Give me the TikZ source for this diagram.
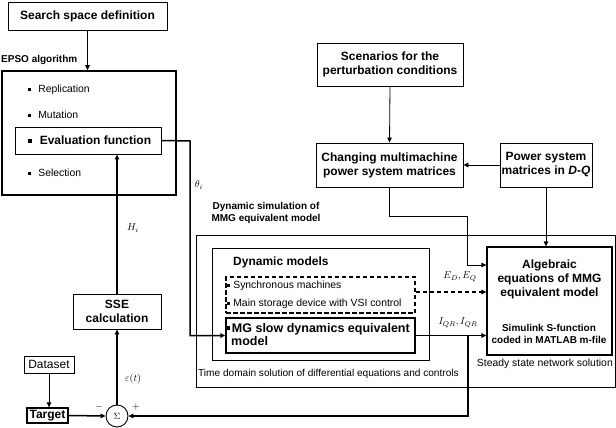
\documentclass[tikz,border=0pt]{standalone}
\usepackage{fontspec}
\setmainfont{Liberation Sans}
\usetikzlibrary{arrows.meta}
\newcommand{\mybullet}{\rule[0.18em]{0.3em}{0.3em}}
\begin{document}
\begin{tikzpicture}[x=1pt,y=-1pt,
  box/.style={draw, line width=0.9pt, inner sep=0pt, align=center},
  bigtxt/.style={font=\fontsize{12}{14}\selectfont\bfseries},
  midtxt/.style={font=\fontsize{10}{12}\selectfont\bfseries},
  smtxt/.style={font=\fontsize{10.4}{12}\selectfont},
  thk/.style={line width=1.5pt},
  thn/.style={line width=0.8pt},
  arr/.style={-{Triangle[length=5pt,width=4.5pt]}},
  lbl/.style={inner sep=0pt}
]
\useasboundingbox (0,0) rectangle (616,428);

% EPSO part
\node[box, bigtxt, minimum width=159pt, minimum height=28pt] (search) at (87.5,16) {Search space definition};
\node[lbl, midtxt, anchor=west] (epsolbl) at (1,60) {EPSO algorithm};
\node[draw, line width=1.6pt, inner sep=0pt, minimum width=174pt, minimum height=124pt] (epso) at (89,133) {};
\node[lbl, smtxt, anchor=west] (rep) at (28,90) {\mybullet\hspace{7pt}Replication};
\node[lbl, smtxt, anchor=west] (mut) at (28,115) {\mybullet\hspace{7pt}Mutation};
\node[box, minimum width=146pt, minimum height=27pt] (eval) at (88,140.5) {};
\node[lbl, bigtxt, anchor=west] (evaltxt) at (28,140.5) {\mybullet\hspace{8pt}Evaluation function};
\node[lbl, smtxt, anchor=west] (sel) at (28,173) {\mybullet\hspace{7pt}Selection};

% right upper part
\node[box, bigtxt, minimum width=146pt, minimum height=43pt] (scen) at (390,64.5) {Scenarios for the\\perturbation conditions};
\node[box, bigtxt, minimum width=147pt, minimum height=44pt] (chg) at (389.5,165) {Changing multimachine\\power system matrices};
\node[box, bigtxt, minimum width=92pt, minimum height=44pt] (pwr) at (546,165) {Power system\\matrices in \textit{D-Q}};

% dynamic simulation
\node[lbl, midtxt, align=center] (dsim) at (266,212.5) {Dynamic simulation of\\MMG equivalent model};
\node[box, minimum width=419pt, minimum height=152pt] (outer) at (405.5,311) {};
\node[box, minimum width=217pt, minimum height=112pt] (dynm) at (320.5,304) {};
\node[lbl, bigtxt, anchor=west] (dmtxt) at (233,262) {Dynamic models};
\node[draw, line width=1.5pt, dash pattern=on 4.5pt off 2.5pt, inner sep=0pt, minimum width=189pt, minimum height=36pt] (dsh) at (320.5,295) {};
\node[lbl, smtxt, anchor=west] (syn) at (227,286) {\mybullet\hspace{3pt}Synchronous machines};
\node[lbl, smtxt, anchor=west] (stor) at (227,304) {\mybullet\hspace{3pt}Main storage device with VSI control};
\node[box, line width=1.3pt, minimum width=189pt, minimum height=35pt] (mg) at (320.5,335.5) {};
\node[lbl, font=\fontsize{12.5}{13}\selectfont\bfseries, anchor=north west, align=left] (mgtxt) at (226.5,323) {\mybullet\hspace{1.5pt}MG slow dynamics equivalent\\\hspace{4.5pt}model};
\node[lbl, font=\fontsize{10.1}{12}\selectfont, anchor=west] (tdom) at (198,374) {Time domain solution of differential equations and controls};

\node[box, line width=1.2pt, minimum width=125pt, minimum height=108pt] (alg) at (549.5,301) {};
\node[lbl, bigtxt, align=center] (algtxt) at (549.5,279) {Algebraic\\equations of MMG\\equivalent model};
\node[lbl, midtxt, align=center] (simtxt) at (549,333.5) {Simulink S-function\\coded in MATLAB m-file};
\node[lbl, smtxt, anchor=east] (ssn) at (613,364) {Steady state network solution};

% lower left
\node[box, bigtxt, minimum width=88pt, minimum height=35pt] (sse) at (117,311.5) {SSE\\calculation};
\node[box, font=\fontsize{12}{14}\selectfont, minimum width=50pt, minimum height=17pt] (data) at (49,364.5) {Dataset};
\node[box, bigtxt, line width=1.3pt, minimum width=41pt, minimum height=15pt] (target) at (47.5,415.5) {Target};
\node[draw, circle, line width=0.9pt, minimum size=22pt, inner sep=0pt, font=\fontsize{9}{10}\selectfont] (sig) at (117,416) {$\Sigma$};
\node[lbl, font=\bfseries] (minus) at (99,407) {$-$};
\node[lbl, font=\bfseries] (plus) at (136,406.5) {$+$};

% labels
\node[lbl] (thl) at (199,185) {$\theta_i$};
\node[lbl] (hl) at (133,228) {$H_i$};
\node[lbl] (el) at (133,379) {$\varepsilon(t)$};
\node[lbl] (edl) at (460,277) {$E_D, E_Q$};
\node[lbl] (iql) at (458,323) {$I_{QR}, I_{QR}$};

% helper coordinates
\coordinate (c1) at (467,216);
\coordinate (c2) at (467,265);
\coordinate (c3) at (467,292);
\coordinate (c4) at (468,416);
\coordinate (c5) at (190,141);

% connectors
\draw[thk, arr] (search.south) -- (search.south |- epso.north);
\draw[thk, arr] (sse.north) -- (sse.north |- eval.south);
\draw[thk, arr] (eval.east) -- (c5) |- (mg.west);
\draw[thn, arr] (scen.south) -- (chg.north);
\draw[thn, arr] (pwr.west) -- (chg.east);
\draw[thn, arr] (chg.south) |- (c1) -- (c2) -- (alg.west |- c2);
\draw[thn, arr] (pwr.south) -- (pwr.south |- alg.north);
\draw[line width=1.3pt, dash pattern=on 4.5pt off 2.5pt, arr] (dsh.east |- c3) -- (alg.west |- c3);
\draw[thk, arr] (mg.east) -- (alg.west |- mg.east);
\draw[thk, arr] (mg.east -| c4) -- (c4) -- (sig.east);
\draw[thk, arr] (sig.north) -- (sse.south);
\draw[thn, arr] (data.south) -- (data.south |- target.north);
\draw[thk, arr] (target.east) -- (sig.west);
\end{tikzpicture}
\end{document}
